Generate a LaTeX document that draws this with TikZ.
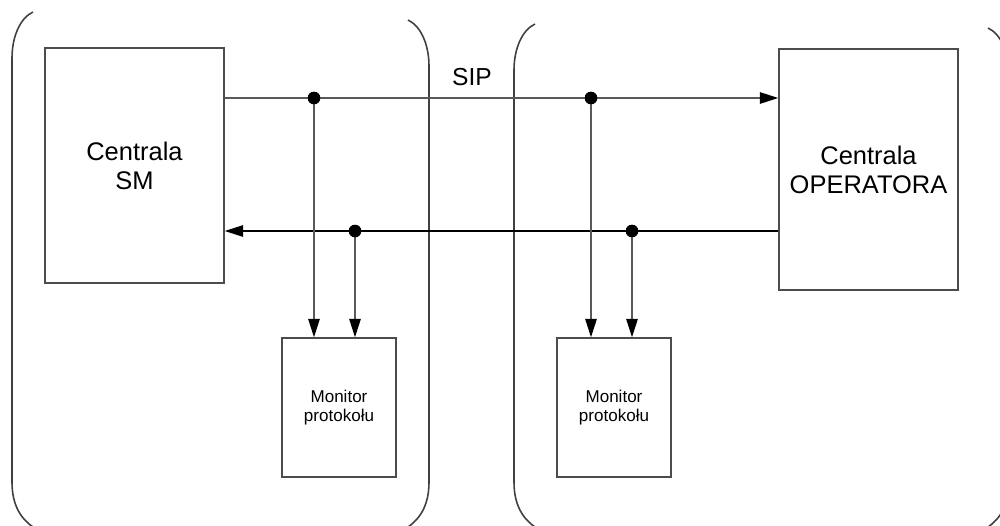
\documentclass[tikz,border=0pt]{standalone}
\usepackage{fontspec}
\setmainfont{Liberation Sans}
\usetikzlibrary{arrows.meta}
\newcommand{\bracketside}[3] % {x of the side}{+1 left side / -1 right side}{y top}
{
	\draw [bracket] (#1+21*#2,#3) .. controls (#1+8*#2,#3+6) and (#1,#3+25) .. (#1,#3+46) -- (#1,482) .. controls (#1,504) and (#1+8*#2,518) .. (#1+21*#2,527);
}
\tikzset{
	bracket/.style={line width=0.9pt, black!75},
	central/.style={draw=black!70, line width=0.8pt, minimum width=3.58cm, align=center, font=\fontsize{14.5}{16.5}\selectfont},
	monitor/.style={draw=black!70, line width=0.8pt, minimum width=2.28cm, minimum height=2.78cm, align=center, font=\fontsize{9.7}{11}\selectfont},
	flow/.style={line width=0.8pt, -{Triangle[length=10.5pt,width=6.5pt,color=black]}},
	tap/.style={circle, fill=black, inner sep=0pt, minimum size=0.25cm}
}
\begin{document}
\begin{tikzpicture}[x=0.02cm, y=-0.02cm]
	\useasboundingbox (0,0) rectangle (1000,525);
	% the two brackets
	\bracketside{12}{1}{12}
	\bracketside{429}{-1}{20}
	\bracketside{514}{1}{24}
	\bracketside{1009}{-1}{28}

	\node [central, minimum height=4.7cm] (sm) at (134.5,165.5) {Centrala\\SM};
	\node [central, minimum height=4.82cm] (op) at (868.5,169.5) {Centrala\\OPERATORA};
	\node [monitor] (mon1) at (339,407.5) {Monitor\\protokołu};
	\node [monitor] (mon2) at (614,407.5) {Monitor\\protokołu};
	\node [font=\fontsize{14}{16}\selectfont] (sip) at (472,77) {SIP};

	% tapping points
	\node [tap] (t1) at (314,98) {};
	\node [tap] (t2) at (591,98) {};
	\node [tap] (t3) at (355,231) {};
	\node [tap] (t4) at (632,231) {};

	\draw [flow, black!65] (sm.east |- t1) -- (op.west |- t1);
	\draw [flow, black] (op.west |- t3) -- (sm.east |- t3);
	\draw [flow, black!65] (t1.center) -- (t1 |- mon1.north);
	\draw [flow, black!65] (t3.center) -- (t3 |- mon1.north);
	\draw [flow, black!65] (t2.center) -- (t2 |- mon2.north);
	\draw [flow, black!65] (t4.center) -- (t4 |- mon2.north);
	\node [tap] at (t1) {};
	\node [tap] at (t2) {};
	\node [tap] at (t3) {};
	\node [tap] at (t4) {};
\end{tikzpicture}
\end{document}
